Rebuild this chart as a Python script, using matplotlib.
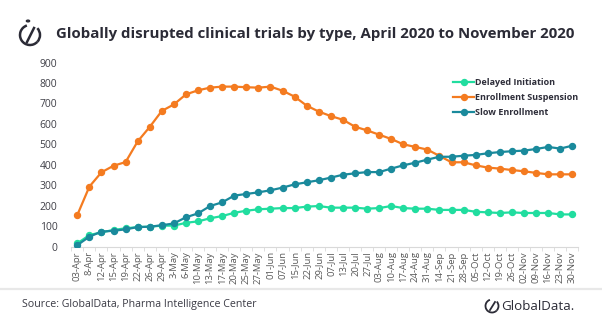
import matplotlib.pyplot as plt
import matplotlib.patches as mpatches
import matplotlib.lines as mlines
import numpy as np

plt.rcParams['font.family'] = ['Open Sans', 'DejaVu Sans']

# Weekly snapshots, April to November 2020
dates = ['03-Apr', '8-Apr', '12-Apr', '15-Apr', '19-Apr', '22-Apr', '26-Apr', '29-Apr',
         '3-May', '6-May', '10-May', '13-May', '17-May', '20-May', '25-May', '27-May',
         '01-Jun', '07-Jun', '15-Jun', '22-Jun', '29-Jun', '07-Jul', '13-Jul', '20-Jul',
         '27-Jul', '03-Aug', '10-Aug', '17-Aug', '24-Aug', '31-Aug', '14-Sep', '21-Sep',
         '28-Sep', '05-Oct', '12-Oct', '19-Oct', '26-Oct', '02-Nov', '09-Nov', '16-Nov',
         '23-Nov', '30-Nov']

delayed_initiation = [15, 56, 69, 81, 89, 95, 97, 102, 102, 116, 123, 138, 149, 165, 175, 182,
                      185, 188, 188, 195, 198, 190, 190, 190, 185, 188, 198, 188, 185, 185,
                      179, 179, 179, 170, 167, 164, 167, 164, 164, 164, 157, 157]
enrollment_suspension = [154, 293, 363, 395, 413, 514, 585, 663, 695, 744, 764, 777, 782, 782,
                         779, 777, 782, 762, 733, 689, 660, 638, 620, 586, 568, 547, 526, 500,
                         487, 474, 443, 412, 412, 397, 386, 381, 374, 368, 360, 353, 353, 353]
slow_enrollment = [7, 48, 73, 77, 84, 95, 97, 104, 113, 143, 162, 198, 216, 249, 257, 265, 275,
                   288, 304, 314, 324, 337, 351, 358, 364, 364, 381, 397, 410, 425, 439, 439,
                   444, 448, 456, 462, 466, 469, 477, 487, 479, 493]

series = [
    ('Delayed Initiation', delayed_initiation, '#21dd9f'),
    ('Enrollment Suspension', enrollment_suspension, '#f47b20'),
    ('Slow Enrollment', slow_enrollment, '#1a8a9c'),
]

fig = plt.figure(figsize=(6.02, 3.23), dpi=100)
ax = fig.add_axes([0.1184, 0.2368, 0.8422, 0.5697])

x = np.arange(len(dates))
for name, vals, col in series:
    ax.plot(x, vals, color=col, lw=1.6, marker='o', ms=4.3, label=name, zorder=3)

ax.set_ylim(0, 900)
ax.set_xlim(-0.5, len(dates) - 0.5)
ax.set_yticks(np.arange(0, 901, 100))
ax.tick_params(axis='y', length=0, labelsize=7.5, labelcolor='#404048', pad=10)

ax.set_xticks(x)
ax.set_xticklabels(dates, rotation=90, fontsize=6.8, color='#595959')
ax.set_xticks(np.arange(-0.5, len(dates), 1), minor=True)
ax.tick_params(axis='x', which='major', length=0, pad=3.5)
ax.tick_params(axis='x', which='minor', length=3, color='#d9d9d9')

for s in ['top', 'right', 'left']:
    ax.spines[s].set_visible(False)
ax.spines['bottom'].set_color('#d9d9d9')

leg = ax.legend(loc='upper left', bbox_to_anchor=(0.7435, 0.94), frameon=False,
                handlelength=2.4, handletextpad=0.05, labelspacing=0.68,
                borderpad=0, prop={'weight': 'bold', 'size': 6.5})
for t in leg.get_texts():
    t.set_color('#2e2e3a')

# header
fig.text(0.093, 0.895, 'Globally disrupted clinical trials by type, April 2020 to November 2020',
         fontsize=10.85, fontweight='bold', color='#2b2b36', va='center', ha='left')

# header icon
icon_col = '#2b2b36'
fig.add_artist(mpatches.Arc((30 / 602, 1 - 35 / 323), 20 / 602, 20 / 323, theta1=100, theta2=300,
                            transform=fig.transFigure, color=icon_col, lw=1.8))
fig.add_artist(mpatches.Arc((30 / 602, 1 - 35 / 323), 20 / 602, 20 / 323, theta1=-60, theta2=60,
                            transform=fig.transFigure, color=icon_col, lw=1.8))
fig.add_artist(mlines.Line2D([27 / 602, 34 / 602], [1 - 42 / 323, 1 - 28 / 323],
                             transform=fig.transFigure, color=icon_col, lw=1.8))
fig.add_artist(mpatches.Circle((28 / 602, 1 - 21 / 323), 1.6 / 602, transform=fig.transFigure,
                               color=icon_col))

# footer
fig.add_artist(mlines.Line2D([0, 1], [1 - 288.5 / 323] * 2, transform=fig.transFigure,
                             color='#e8e8e8', lw=1.6))
fig.text(22 / 602, 1 - 305 / 323, 'Source: GlobalData, Pharma Intelligence Center',
         fontsize=7.7, color='#3a3a44', va='center', ha='left')

fig.add_artist(mpatches.Arc((492 / 602, 1 - 306 / 323), 13 / 602, 13 / 323, theta1=100, theta2=300,
                            transform=fig.transFigure, color=icon_col, lw=1.3))
fig.add_artist(mpatches.Arc((492 / 602, 1 - 306 / 323), 13 / 602, 13 / 323, theta1=-60, theta2=60,
                            transform=fig.transFigure, color=icon_col, lw=1.3))
fig.add_artist(mlines.Line2D([490 / 602, 495 / 602], [1 - 310 / 323, 1 - 302 / 323],
                             transform=fig.transFigure, color=icon_col, lw=1.3))
fig.text(501 / 602, 1 - 306 / 323, 'GlobalData.', fontsize=9.6, color=icon_col,
         va='center', ha='left')

fig.savefig('out.png', dpi=100)
